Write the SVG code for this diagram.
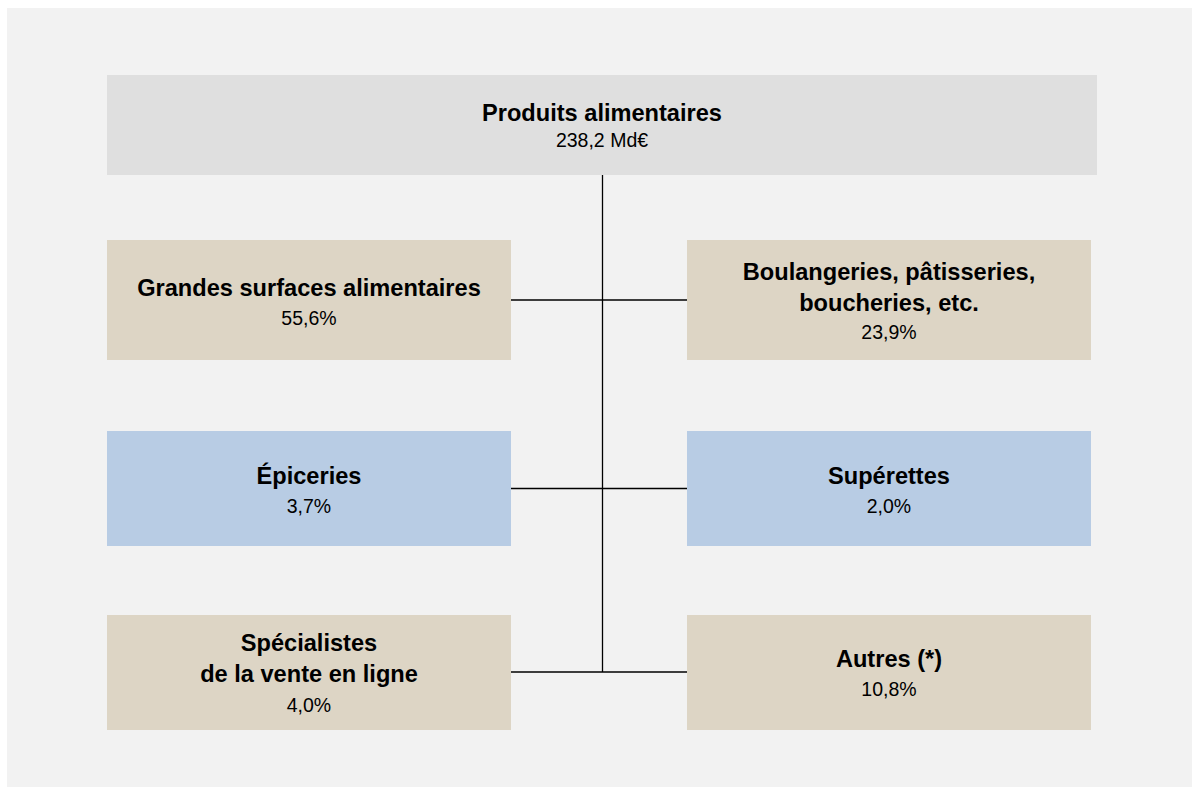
<svg xmlns="http://www.w3.org/2000/svg" width="1192" height="787" viewBox="0 0 1192 787">
<style>
.t{font-family:"Liberation Sans",Arial,sans-serif;font-weight:bold;font-size:23.6px;fill:#000;text-anchor:middle}
.v{font-family:"Liberation Sans",Arial,sans-serif;font-size:19.5px;fill:#000;text-anchor:middle}
.beige{fill:#ddd5c5}
.blue{fill:#b8cce4}
.ln{stroke:#000;stroke-width:1.3;fill:none}
</style>
<rect x="0" y="0" width="1192" height="787" fill="#ffffff"/>
<rect x="7" y="8" width="1185" height="779" fill="#f2f2f2"/>
<g id="connectors">
<line class="ln" x1="602.5" y1="175" x2="602.5" y2="672"/>
<line class="ln" x1="511" y1="300" x2="687" y2="300"/>
<line class="ln" x1="511" y1="488.5" x2="687" y2="488.5"/>
<line class="ln" x1="511" y1="672" x2="687" y2="672"/>
</g>
<g id="root">
<rect x="107" y="75" width="990" height="100" fill="#dfdfdf"/>
<text class="t" x="602" y="121">Produits alimentaires</text>
<text class="v" x="602" y="147">238,2 Md€</text>
</g>
<g id="grandes-surfaces">
<rect class="beige" x="107" y="240" width="404" height="120"/>
<text class="t" x="309" y="296">Grandes surfaces alimentaires</text>
<text class="v" x="309" y="325">55,6%</text>
</g>
<g id="boulangeries">
<rect class="beige" x="687" y="240" width="404" height="120"/>
<text class="t" x="889" y="280">Boulangeries, pâtisseries,</text>
<text class="t" x="889" y="311">boucheries, etc.</text>
<text class="v" x="889" y="339">23,9%</text>
</g>
<g id="epiceries">
<rect class="blue" x="107" y="431" width="404" height="115"/>
<text class="t" x="309" y="484">Épiceries</text>
<text class="v" x="309" y="513">3,7%</text>
</g>
<g id="superettes">
<rect class="blue" x="687" y="431" width="404" height="115"/>
<text class="t" x="889" y="484">Supérettes</text>
<text class="v" x="889" y="513">2,0%</text>
</g>
<g id="vente-en-ligne">
<rect class="beige" x="107" y="615" width="404" height="115"/>
<text class="t" x="309" y="651">Spécialistes</text>
<text class="t" x="309" y="682">de la vente en ligne</text>
<text class="v" x="309" y="712">4,0%</text>
</g>
<g id="autres">
<rect class="beige" x="687" y="615" width="404" height="115"/>
<text class="t" x="889" y="667">Autres (*)</text>
<text class="v" x="889" y="696">10,8%</text>
</g>
</svg>
